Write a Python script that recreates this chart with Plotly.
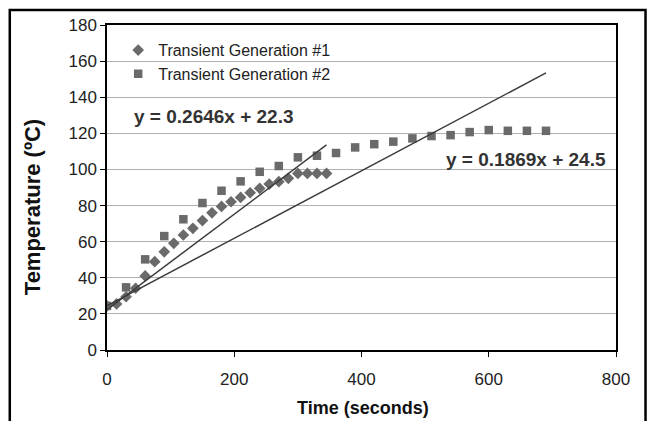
import plotly.graph_objects as go

# Transient Generation #1 (diamonds)
t1 = [0, 15, 30, 45, 60, 75, 90, 105, 120, 135, 150, 165, 180, 195, 210, 225,
      240, 255, 270, 285, 300, 315, 330, 345]
temp1 = [24.4, 25.5, 29.5, 34.2, 41.0, 48.9, 54.4, 59.1, 63.7, 67.4, 71.7, 76.0,
         79.5, 82.1, 84.5, 87.1, 89.5, 91.9, 93.2, 95.1, 97.8, 97.8, 97.8, 97.8]

# Transient Generation #2 (squares)
t2 = [0, 30, 60, 90, 120, 150, 180, 210, 240, 270, 300, 330, 360, 390, 420, 450,
      480, 510, 540, 570, 600, 630, 660, 690]
temp2 = [24.4, 34.7, 50.2, 63.1, 72.4, 81.4, 88.2, 93.4, 98.7, 101.9, 106.7, 107.6,
         109.1, 112.2, 114.0, 115.4, 117.2, 118.5, 119.0, 120.7, 121.8, 121.4, 121.4, 121.4]

# Linear trendlines (slope, intercept)
fit1 = [0.2646, 22.3]
fit2 = [0.1869, 24.5]

series_names = ["Transient Generation #1", "Transient Generation #2"]
x_ticks = [0, 200, 400, 600, 800]
y_ticks = [0, 20, 40, 60, 80, 100, 120, 140, 160, 180]

FONT = "Arial, Liberation Sans, sans-serif"
MARK = "#6a6a6a"
LINE = "#3c3c3c"

fig = go.Figure()

def trend(xs, fit):
    xr = [min(xs), max(xs)]
    return xr, [fit[0] * v + fit[1] for v in xr]

lx1, ly1 = trend(t1, fit1)
lx2, ly2 = trend(t2, fit2)

fig.add_trace(go.Scatter(x=t1, y=temp1, mode="markers", name=series_names[0],
                         marker=dict(symbol="diamond", size=9, color=MARK)))
fig.add_trace(go.Scatter(x=t2, y=temp2, mode="markers", name=series_names[1],
                         marker=dict(symbol="square", size=8.5, color=MARK)))
fig.add_trace(go.Scatter(x=lx1, y=ly1, mode="lines", showlegend=False,
                         line=dict(color=LINE, width=1.5)))
fig.add_trace(go.Scatter(x=lx2, y=ly2, mode="lines", showlegend=False,
                         line=dict(color=LINE, width=1.5)))

def eq_text(fit):
    return f"y = {fit[0]:.4f}x + {fit[1]:.1f}"

fig.add_annotation(x=0.21, y=0.72, xref="paper", yref="paper", xanchor="center",
                   yanchor="middle", text=eq_text(fit1), showarrow=False,
                   font=dict(family=FONT, size=19, color="#333333", weight="bold"))
fig.add_annotation(x=0.823, y=0.585, xref="paper", yref="paper", xanchor="center",
                   yanchor="middle", text=eq_text(fit2), showarrow=False,
                   font=dict(family=FONT, size=19, color="#333333", weight="bold"))

# axis titles placed as in the reference
fig.add_annotation(x=-0.147, y=0.44, xref="paper", yref="paper", xanchor="center",
                   yanchor="middle", text="Temperature (ºC)", textangle=-90,
                   showarrow=False,
                   font=dict(family=FONT, size=22, color="#111111", weight="bold"))
fig.add_annotation(x=0.503, y=-0.178, xref="paper", yref="paper", xanchor="center",
                   yanchor="middle", text="Time (seconds)", showarrow=False,
                   font=dict(family=FONT, size=18, color="#111111", weight="bold"))

# white legend background hiding part of the gridline
fig.add_shape(type="rect", xref="paper", yref="paper", x0=0.0, x1=0.568,
              y0=0.815, y1=0.985, fillcolor="white", line_width=0, layer="between")

# outer frame
fig.add_shape(type="rect", xref="paper", yref="paper",
              x0=-0.191, x1=1.058, y0=-0.35, y1=1.046,
              line=dict(color="black", width=2.5), fillcolor="rgba(0,0,0,0)")

fig.update_layout(
    width=652, height=421,
    margin=dict(l=107, r=36, t=25, b=71),
    paper_bgcolor="white", plot_bgcolor="white",
    font=dict(family=FONT, size=16, color="#1a1a1a"),
    showlegend=True,
    legend=dict(x=0.022, y=0.975, xanchor="left", yanchor="top",
                bgcolor="rgba(0,0,0,0)", font=dict(size=16, color="#222222"),
                tracegroupgap=0, itemwidth=30),
)
fig.update_xaxes(range=[0, 800], tickvals=x_ticks, showgrid=False, zeroline=False,
                 showline=True, linecolor="black", linewidth=1.5, mirror=True,
                 ticks="outside", ticklen=5, tickcolor="black", ticklabelstandoff=8,
                 tickfont=dict(size=17, color="#222222"))
fig.update_yaxes(range=[0, 180], tickvals=y_ticks, showgrid=True, gridcolor="#b0b0b0",
                 gridwidth=1.3, zeroline=False, showline=True, linecolor="black",
                 linewidth=1.5, mirror=True, ticks="outside", ticklen=5, tickcolor="black",
                 tickfont=dict(size=17, color="#222222"))

fig.write_html("out.html")
